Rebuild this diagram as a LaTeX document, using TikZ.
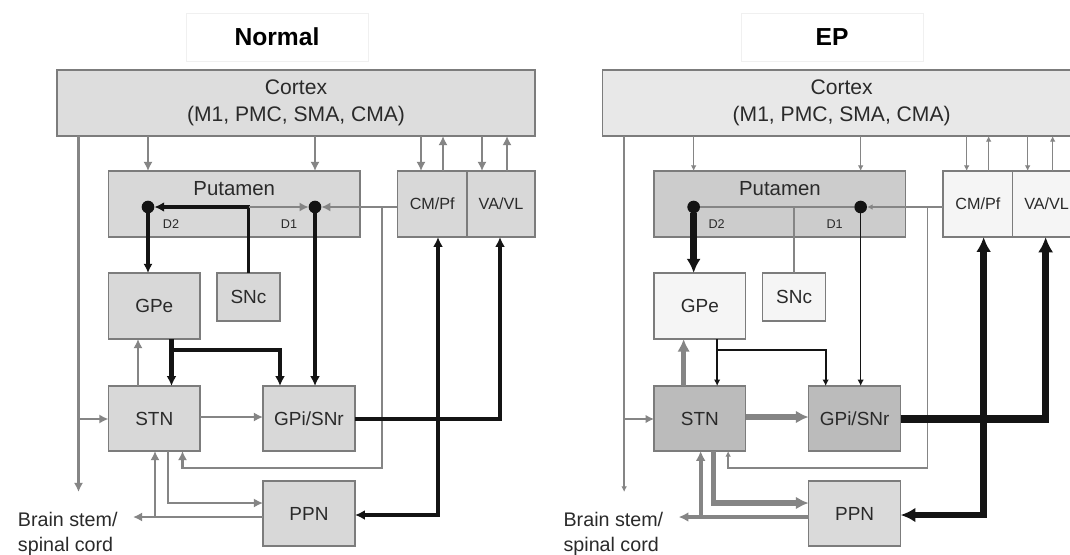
\documentclass[tikz,border=0pt]{standalone}
\usepackage{fontspec}
\setmainfont{Liberation Sans}
\usetikzlibrary{arrows.meta,shadows}

\definecolor{lngray}{HTML}{858585}
\definecolor{lnblack}{HTML}{141414}
\definecolor{bxedge}{HTML}{7C7C7C}
\definecolor{txtgray}{HTML}{2A2A2A}
\definecolor{boxn}{HTML}{D8D8D8}
\definecolor{cxn}{HTML}{DDDDDD}
\definecolor{cxe}{HTML}{E8E8E8}
\definecolor{pute}{HTML}{CCCCCC}
\definecolor{darke}{HTML}{BBBBBB}
\definecolor{lighte}{HTML}{F5F5F5}
\definecolor{ppne}{HTML}{DADADA}

\tikzset{
  box/.style={draw=bxedge,line width=1pt,inner sep=0pt,outer sep=0pt,text=txtgray,
    font=\fontsize{13.5}{16}\selectfont},
  title/.style={draw=gray!12,fill=white,minimum width=4.55cm,minimum height=1.2cm,
    font=\bfseries\fontsize{17.5}{20}\selectfont,
    drop shadow={opacity=0.25,shadow xshift=0.6pt,shadow yshift=-0.9pt}},
  dot/.style={circle,fill=lnblack,inner sep=0pt,outer sep=0pt,minimum size=9pt},
  dlbl/.style={font=\fontsize{9}{10}\selectfont,text=txtgray},
  gy/.style={draw=lngray,line width=#1},
  bk/.style={draw=lnblack,line width=#1},
  hd/.style={-{Latex[length=#1,width=#1]}},
  hdd/.style={{Latex[length=#1,width=#1]}-{Latex[length=#1,width=#1]}},
  % normal
  n-cx/.style={fill=cxn}, n-put/.style={fill=boxn}, n-thal/.style={fill=boxn},
  n-gpe/.style={fill=boxn}, n-snc/.style={fill=boxn}, n-stn/.style={fill=boxn},
  n-gpi/.style={fill=boxn}, n-ppn/.style={fill=boxn},
  n-ctx/.style={gy=2.1pt,hd=6.5pt}, n-ltstn/.style={gy=2.1pt,hd=6.5pt},
  n-sn/.style={bk=2.8pt,hd=7pt}, n-snone/.style={gy=2.1pt,hd=6.5pt},
  n-cmd1/.style={gy=2.1pt,hd=6.5pt}, n-d2gpe/.style={bk=2.4pt,hd=6.5pt},
  n-d1gpi/.style={bk=2.8pt,hd=7pt}, n-gpeout/.style={bk=3pt,hd=7pt},
  n-stngpe/.style={gy=2.1pt,hd=6.5pt}, n-stngpi/.style={gy=2.1pt,hd=6.5pt},
  n-gpiout/.style={bk=2.8pt,hd=7pt}, n-both/.style={bk=2.8pt,hdd=7pt},
  n-loop/.style={gy=2.1pt,hd=6.5pt}, n-stnppn/.style={gy=2.1pt,hd=6.5pt},
  n-ppnout/.style={gy=2.1pt,hd=6.5pt},
  % EP
  e-cx/.style={fill=cxe}, e-put/.style={fill=pute}, e-thal/.style={fill=lighte},
  e-gpe/.style={fill=lighte}, e-snc/.style={fill=lighte}, e-stn/.style={fill=darke},
  e-gpi/.style={fill=darke}, e-ppn/.style={fill=ppne},
  e-ctx/.style={gy=1.1pt,hd=4pt}, e-ltstn/.style={gy=2pt,hd=6pt},
  e-sn/.style={gy=1.1pt}, e-snone/.style={gy=1.1pt},
  e-cmd1/.style={gy=1.1pt,hd=4pt}, e-d2gpe/.style={bk=4.5pt,hd=10pt},
  e-d1gpi/.style={bk=1.2pt,hd=4.5pt}, e-gpeout/.style={bk=1.4pt,hd=4.5pt},
  e-stngpe/.style={gy=4pt,hd=9pt}, e-stngpi/.style={gy=4pt,hd=9pt},
  e-gpiout/.style={bk=5pt,hd=11pt}, e-both/.style={bk=4.5pt,hdd=10.5pt},
  e-loop/.style={gy=1.1pt,hd=4pt}, e-stnppn/.style={gy=4pt,hd=9pt},
  e-ppnout/.style={gy=2.8pt,hd=7pt},
}

% one panel: #1 prefix, #2 shift, #3 title, #4 title x
\newcommand{\bgpanel}[4]{%
\begin{scope}[xshift=#2]
  \node[title] (#1ttl) at (#4,37) {#3};
  \node[box,#1-cx,minimum width=11.95cm,minimum height=1.65cm,align=center,
    font=\fontsize{15}{19}\selectfont] (#1cx) at (296,103) {Cortex\\(M1, PMC, SMA, CMA)};
  \node[box,#1-put,minimum width=6.29cm,minimum height=1.65cm,
    label={[anchor=center,yshift=-12.5pt,text=txtgray,font=\fontsize{14.5}{17}\selectfont]north:Putamen}]
    (#1put) at (234.25,204) {};
  \node[box,#1-thal,minimum width=1.74cm,minimum height=1.65cm,font=\fontsize{11.5}{14}\selectfont]
    (#1cm) at (432.25,204) {CM/Pf};
  \node[box,#1-thal,minimum width=1.7cm,minimum height=1.65cm,font=\fontsize{11.5}{14}\selectfont]
    (#1va) at (501,204) {VA/VL};
  \node[box,#1-gpe,minimum width=2.29cm,minimum height=1.65cm] (#1gpe) at (154.25,306) {GPe};
  \node[box,#1-snc,minimum width=1.575cm,minimum height=1.2cm] (#1snc) at (248.5,297) {SNc};
  \node[box,#1-stn,minimum width=2.29cm,minimum height=1.625cm] (#1stn) at (154.25,418.5) {STN};
  \node[box,#1-gpi,minimum width=2.3cm,minimum height=1.625cm] (#1gpi) at (309,418.5) {GPi/SNr};
  \node[box,#1-ppn,minimum width=2.3cm,minimum height=1.625cm] (#1ppn) at (309,513.5) {PPN};
  \node[anchor=west,align=left,text=txtgray,font=\fontsize{14}{17.5}\selectfont]
    (#1bs) at (13,534) {Brain stem/\\spinal cord};
  \coordinate (#1bsup) at (78.5,492);
  \coordinate (#1bsin) at (133,517);
  \node[dot] (#1d2) at (148,207) {};
  \node[dot] (#1d1) at (315,207) {};
  \node[dlbl] (#1d2l) at (171,224) {D2};
  \node[dlbl] (#1d1l) at (289,224) {D1};
  % cortex
  \draw[#1-ctx] (#1cx.south -| 148,0) -- (#1put.north -| 148,0);
  \draw[#1-ctx] (#1cx.south -| 315,0) -- (#1put.north -| 315,0);
  \draw[#1-ctx] (#1cx.south -| 421,0) -- (#1cm.north -| 421,0);
  \draw[#1-ctx] (#1cm.north -| 443,0) -- (#1cx.south -| 443,0);
  \draw[#1-ctx] (#1cx.south -| 482,0) -- (#1va.north -| 482,0);
  \draw[#1-ctx] (#1va.north -| 507,0) -- (#1cx.south -| 507,0);
  \draw[#1-ctx] (#1cx.south -| #1bsup) -- (#1bsup);
  \draw[#1-ltstn] (78.5,419) -- (#1stn.west |- 0,419);
  % striatum
  \draw[#1-sn] (#1snc.north) |- (#1d2);
  \draw[#1-snone] (#1snc.north |- #1d1) -- (#1d1);
  \draw[#1-cmd1] (#1cm.west |- #1d1) -- (#1d1);
  \draw[#1-loop] (382,207) -- (382,468) -| (#1stn.south -| 182.5,0);
  \draw[#1-d2gpe] (#1d2) -- (#1gpe.north -| #1d2);
  \draw[#1-d1gpi] (#1d1) -- (#1gpi.north -| #1d1);
  % pallidum
  \draw[#1-gpeout] (#1gpe.south -| 171.5,0) -- (#1stn.north -| 171.5,0);
  \draw[#1-gpeout] (171.5,350) -| (#1gpi.north -| 280,0);
  \draw[#1-stngpe] (#1stn.north -| 138,0) -- (#1gpe.south -| 138,0);
  \draw[#1-stngpi] (#1stn.east |- 0,417) -- (#1gpi.west |- 0,417);
  \draw[#1-gpiout] (#1gpi.east |- 0,419) -| (#1va.south -| 500,0);
  \draw[#1-both] (#1cm.south -| 438,0) |- (#1ppn.east |- 0,515);
  % brain stem
  \draw[#1-stnppn] (#1stn.south -| 168,0) |- (#1ppn.west |- 0,503);
  \draw[#1-ppnout] (#1ppn.west |- 0,517) -- (#1bsin);
  \draw[#1-ppnout] (155,517) -- (#1stn.south -| 155,0);
\end{scope}}

\begin{document}
\begin{tikzpicture}[x=0.025cm,y=-0.025cm]
  \useasboundingbox[fill=white] (0,0) rectangle (1070,554);
  \bgpanel{n}{0cm}{Normal}{277}
  \bgpanel{e}{13.6375cm}{EP}{286.5}
\end{tikzpicture}
\end{document}
